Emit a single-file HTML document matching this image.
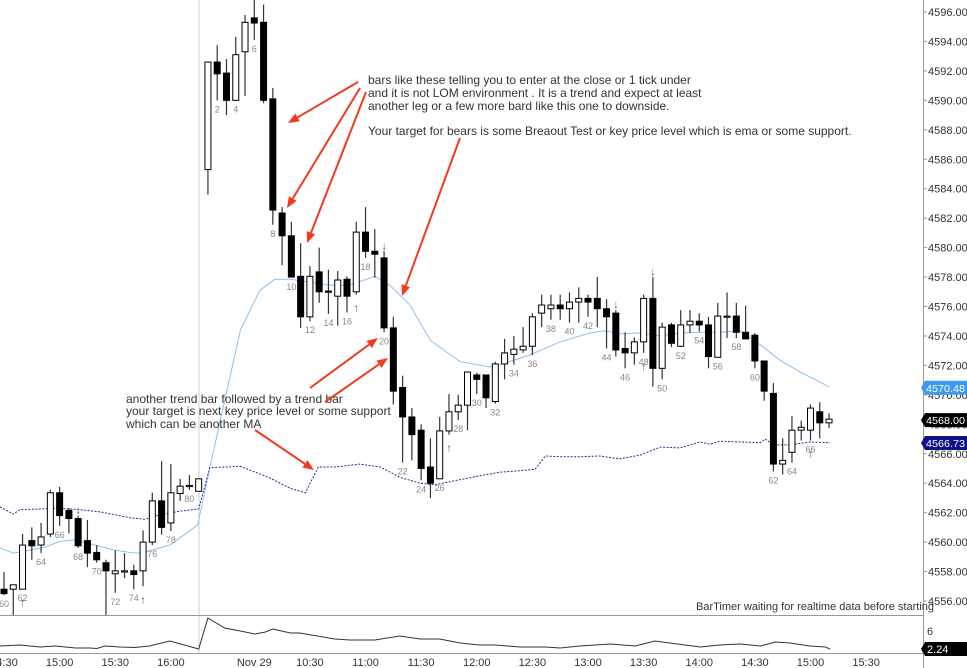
<!DOCTYPE html>
<html><head><meta charset="utf-8"><style>
html,body{margin:0;padding:0;background:#fff;}
svg{display:block;font-family:"Liberation Sans",sans-serif;}
</style></head><body>
<svg id="chart" width="967" height="668" viewBox="0 0 967 668" xmlns="http://www.w3.org/2000/svg">
<rect x="0" y="0" width="967" height="668" fill="#fff"/>
<line x1="199" y1="0" x2="199" y2="653" stroke="#cfcfcf" stroke-width="1"/>
<line x1="0" y1="615.5" x2="923" y2="615.5" stroke="#999"/>
<line x1="0" y1="653.5" x2="923" y2="653.5" stroke="#999"/>
<line x1="923.5" y1="0" x2="923.5" y2="668" stroke="#999"/>
<g id="g-ma"></g>
<g id="g-candles"></g>
<g id="g-labels"></g>
<g id="g-signals"></g>
<g id="g-ind"></g>
<g id="g-axis"></g>
<g id="g-notes" font-size="12" fill="#333">
<text x="368" y="84">bars like these telling you to enter at the close or 1 tick under</text>
<text x="368" y="97">and it is not LOM environment . It is a trend and expect at least</text>
<text x="368" y="110">another leg or a few more bard like this one to downside.</text>
<text x="368" y="135">Your target for bears is some Breaout Test or key price level which is ema or some support.</text>
<text x="126" y="403">another trend bar followed by a trend bar</text>
<text x="126" y="415">your target is next key price level or some support</text>
<text x="126" y="428">which can be another MA</text>
<text x="696" y="610" font-size="11">BarTimer waiting for realtime data before starting</text>
</g>
<g id="g-arrows"></g>
</svg>
<script>
// ---- data ----
const barNums = [60,61,62,63,64,65,66,67,68,69,70,71,72,73,74,75,76,77,78,79,80,81,
 1,2,3,4,5,6,7,8,9,10,11,12,13,14,15,16,17,18,19,20,21,22,23,24,25,26,27,28,29,30,31,32,33,34,35,36,37,38,39,40,41,42,43,44,45,46,47,48,49,50,51,52,53,54,55,56,57,58,59,60,61,62,63,64,65,66,67,68];
const opens = [4556.8,4556.8,4556.8,4560.1,4559.8,4560.55,4563.35,4562.15,4561.6,4560.1,4559.3,4558.6,4557.85,4558.0,4558.05,4558.05,4560.0,4562.8,4561.3,4563.3,4563.8,4563.45,
 4585.3,4592.6,4591.85,4590.0,4593.3,4595.6,4595.3,4590.1,4582.35,4580.8,4578.05,4575.3,4578.35,4577.05,4576.7,4577.85,4577.0,4581.05,4579.75,4579.3,4574.55,4570.5,4568.5,4567.6,4565.1,4564.3,4567.55,4568.85,4569.3,4571.35,4571.35,4569.55,4572.1,4572.75,4573.05,4573.3,4575.55,4575.85,4576.1,4575.85,4576.3,4576.55,4576.55,4575.85,4575.55,4573.15,4572.85,4573.6,4576.55,4571.8,4574.75,4573.3,4574.75,4575.0,4574.75,4572.55,4575.3,4575.35,4574.25,4574.05,4572.3,4570.1,4565.3,4566.1,4567.6,4567.6,4568.85,4568.1];
const highs = [4557.97,4557.1,4560.55,4561.0,4561.3,4563.55,4563.75,4562.3,4561.8,4561.5,4559.8,4558.8,4559.45,4559.25,4558.45,4560.8,4563.35,4565.5,4565.3,4564.3,4564.55,4564.3,
 4592.6,4593.75,4592.8,4594.3,4595.8,4597.0,4596.5,4590.85,4582.75,4581.75,4580.3,4578.75,4580.0,4578.5,4578.4,4578.05,4581.75,4582.75,4581.25,4579.75,4575.3,4571.3,4569.1,4568.0,4567.05,4568.5,4570.05,4570.0,4571.55,4571.5,4571.35,4572.25,4573.8,4574.0,4574.6,4575.55,4576.8,4576.8,4576.8,4576.95,4577.3,4576.8,4578.0,4576.5,4575.75,4574.25,4573.9,4576.8,4578.0,4574.9,4574.9,4575.75,4575.75,4575.55,4575.3,4576.25,4576.95,4576.25,4576.05,4574.2,4572.3,4570.8,4567.05,4568.55,4568.25,4569.35,4569.5,4568.75];
const lows = [4556.4,4554.9,4556.8,4558.8,4559.25,4560.35,4561.1,4560.6,4559.6,4558.3,4558.6,4554.9,4556.55,4557.55,4556.8,4557.0,4559.8,4560.5,4560.75,4562.8,4563.55,4563.45,
 4583.6,4590.0,4589.0,4590.0,4590.3,4594.1,4589.8,4581.55,4578.8,4577.95,4574.55,4575.0,4576.25,4575.5,4574.7,4575.6,4576.8,4579.3,4577.95,4574.25,4569.35,4565.4,4565.55,4564.2,4563.0,4564.3,4567.3,4568.3,4567.6,4570.05,4569.1,4569.4,4571.05,4572.05,4572.85,4572.7,4574.6,4575.1,4575.1,4574.9,4574.9,4575.3,4574.6,4573.15,4572.6,4571.8,4572.05,4572.85,4570.55,4571.05,4573.25,4573.25,4574.2,4574.3,4571.8,4572.55,4573.85,4573.85,4573.8,4571.8,4569.6,4564.8,4564.6,4565.4,4566.9,4566.9,4567.05,4567.75];
const closes = [4556.5,4557.1,4559.8,4559.75,4560.35,4563.35,4561.8,4561.6,4559.75,4559.25,4558.8,4558.05,4558.05,4558.05,4557.8,4560.0,4562.8,4561.0,4563.35,4563.8,4563.85,4564.3,
 4592.6,4591.8,4590.0,4593.1,4595.3,4595.25,4590.0,4582.55,4580.8,4578.0,4575.3,4578.05,4577.0,4577.0,4577.8,4576.7,4581.05,4579.75,4579.55,4574.55,4570.25,4568.5,4567.3,4565.0,4564.0,4567.55,4568.85,4569.3,4571.55,4571.05,4569.8,4572.1,4572.85,4573.1,4573.3,4575.3,4576.1,4576.1,4575.85,4576.3,4576.55,4576.3,4575.85,4575.3,4573.05,4572.85,4573.6,4576.55,4571.8,4574.6,4573.5,4574.75,4575.0,4574.75,4572.6,4575.35,4575.35,4574.25,4573.8,4572.3,4570.25,4565.3,4565.55,4567.6,4567.8,4569.1,4568.1,4568.35];
const emaIdx = [-0.43,1,4.4,6,7.7,9.8,12,14.1,15.2,17.9,20.9,22.2,25.5,27.6,29.2,30.9,35.2,37.3,40,41.6,43.8,46,49.2,52.4,53.5,56.7,60,63.2,64.8,66.5,68.6,70.8,72.9,75.1,77.2,79.4,81.6,83.7,85.9,89];
const emaVal = [4559.6,4559.25,4559.65,4560.05,4560.15,4559.8,4559.45,4559.25,4559.3,4559.8,4561.15,4565.05,4574.4,4577.1,4577.85,4577.85,4577.45,4577.45,4578.05,4577.45,4576.1,4573.7,4572.25,4571.9,4572.05,4572.7,4573.6,4574.2,4574.35,4574.15,4574.2,4574.0,4574.2,4574.25,4574.25,4574.35,4573.4,4572.35,4571.55,4570.55];
const maIdx = [-0.43,1,1.7,3.9,6,8.2,10.4,13.6,15.2,16.8,19,21,22.2,25.5,28.7,30.9,32.5,33.9,35.7,38.4,40.6,42.7,44.9,46.5,48.1,51.3,53.5,55.7,57.3,58.4,60,62.1,64.3,66.4,68.6,70.8,72.9,75.1,76.2,77.2,81.6,82.1,83,84.8,86.9,89.1];
const maVal = [4562.4,4561.9,4562.2,4562.25,4562.3,4562.2,4562.05,4561.65,4561.55,4561.85,4562.1,4562.25,4565.05,4565.15,4564.35,4563.65,4563.35,4565.1,4565.1,4565.3,4565.1,4564.4,4564.0,4563.9,4564.1,4564.5,4564.75,4564.85,4564.95,4565.85,4565.8,4565.8,4565.85,4565.65,4565.9,4566.45,4566.4,4566.8,4566.65,4566.85,4566.75,4567.0,4566.6,4566.6,4566.8,4566.75];
const indIdx = [-0.43,1.7,3.9,5.5,7.7,9.3,10,10.9,12.5,14.1,15.7,17.9,21,22,23.8,25.5,27.1,28.2,29,30.9,31.9,35.7,37.3,40,42.7,44.9,47,49.2,51.3,53,55.7,58.4,60,62.1,65.4,68.1,70.2,71.8,75.1,77.2,79.4,81.6,83.2,84.8,86.9,88.6,89.1];
const indVal = [2.87,3.08,2.66,2.87,2.45,2.45,2.34,2.87,2.66,2.55,2.87,3.91,2.24,8.71,6.62,6.0,5.37,5.79,6.42,5.58,5.58,4.33,4.12,4.12,4.95,4.33,4.33,3.49,3.08,3.08,2.66,2.66,2.45,2.87,3.29,2.87,3.91,3.49,2.66,3.08,3.29,2.87,3.7,3.49,2.87,2.66,2.24];
const upSignals = [2,15,38,48,69,87];
const downSignals = [8,41,66,70];
const priceTicks = [4556,4558,4560,4562,4564,4566,4568,4570,4572,4574,4576,4578,4580,4582,4584,4586,4588,4590,4592,4594,4596];
const timeLabels = ["14:30","15:00","15:30","16:00","Nov 29","10:30","11:00","11:30","12:00","12:30","13:00","13:30","14:00","14:30","15:00","15:30"];
const timeIdx = [0,6,12,18,27,33,39,45,51,57,63,69,75,81,87,93];

// ---- scales ----
const NS="http://www.w3.org/2000/svg";
const X = i => 4 + i*9.27;
const Y = p => 12 + (4596-p)*14.725;
const YI = v => 649 - (v-2.24)*4.79;
function mk(tag, attrs, parent){const e=document.createElementNS(NS,tag);for(const k in attrs)e.setAttribute(k,attrs[k]);parent.appendChild(e);return e;}
const gC=document.getElementById('g-candles'), gL=document.getElementById('g-labels'), gM=document.getElementById('g-ma'),
 gS=document.getElementById('g-signals'), gI=document.getElementById('g-ind'), gA=document.getElementById('g-axis'), gR=document.getElementById('g-arrows');

const defs=mk('defs',{},document.getElementById('chart'));
const cp=mk('clipPath',{id:'pclip'},defs); mk('rect',{x:0,y:0,width:923,height:615},cp);
gC.setAttribute('clip-path','url(#pclip)'); gM.setAttribute('clip-path','url(#pclip)');

function poly(idx, vals, yf){return idx.map((v,k)=>X(v).toFixed(1)+','+yf(vals[k]).toFixed(1)).join(' ');}
const ema=mk('polyline',{points:poly(emaIdx,emaVal,Y),fill:'none',stroke:'#8fc0f5','stroke-width':1},gM);


const ma=mk('polyline',{points:poly(maIdx,maVal,Y),fill:'none',stroke:'#2b2b8f','stroke-width':1,'stroke-dasharray':'2,1.5'},gM);



for(let i=0;i<opens.length;i++){
  const x=X(i), o=opens[i], c=closes[i];
  const w=mk('line',{x1:x,x2:x,y1:Y(highs[i]),y2:Y(lows[i]),stroke:'#333','stroke-width':1.2},gC);
  
  
  const top=Y(Math.max(o,c)), bot=Y(Math.min(o,c));
  const h=Math.max(bot-top,1.2);
  const up=c>=o;
  const b=mk('rect',{x:x-3,y:top,width:6,height:h,fill:up?'#fff':'#000',stroke:'#000','stroke-width':1},gC);
  
  
  if(barNums[i]%2===0 && i<opens.length-1){
    const t=mk('text',{x:x,y:Math.min(Y(lows[i])+12,611),'text-anchor':'middle','font-size':9,fill:'#888'},gL);
    t.textContent=barNums[i];
    
    
  }
}
upSignals.forEach(i=>{
  const t=mk('text',{x:X(i),y:Math.min(Y(lows[i])+17,610),'text-anchor':'middle','font-size':11,fill:'#2a8a2a','font-weight':'bold'},gS);
  t.textContent='↑';
  
  
});
downSignals.forEach(i=>{
  const t=mk('text',{x:X(i),y:Y(highs[i])-2,'text-anchor':'middle','font-size':11,fill:'#a030a0','font-weight':'bold'},gS);
  t.textContent='↓';
  
  
});
const ind=mk('polyline',{points:poly(indIdx,indVal,YI),fill:'none',stroke:'#333','stroke-width':1},gI);



priceTicks.forEach(p=>{
  const tk=mk('line',{x1:923,x2:927,y1:Y(p),y2:Y(p),stroke:'#999'},gA);
  
  
  const t=mk('text',{x:928,y:Y(p)+4,'font-size':11,fill:'#333'},gA);
  t.textContent=p.toFixed(2);
  
  
});
timeLabels.forEach((s,k)=>{
  const t=mk('text',{x:X(timeIdx[k]),y:666,'text-anchor':'middle','font-size':11,fill:'#333'},gA);
  t.textContent=s;
  
  
});
function tag(val,color,y,name){
  const g=mk('g',{},gA);
  
  
  mk('polygon',{points:`921,${y} 925,${y-7} 967,${y-7} 967,${y+7} 925,${y+7}`,fill:color},g);
  const t=mk('text',{x:926,y:y+4,'font-size':10.5,fill:'#fff',textLength:39,lengthAdjust:'spacingAndGlyphs'},g); t.textContent=val;
}
tag('4570.48','#3d9af0',Y(4570.48),'ema-price-tag');
tag('4568.00','#000',Y(closes[closes.length-1])+1,'last-price-tag');
tag('4566.73','#10108a',Y(4566.73),'ma-price-tag');
const t6=mk('text',{x:927,y:635,'font-size':11,fill:'#333'},gA); t6.textContent='6';


(function(){
  const g=mk('g',{},gA);
  
  
  mk('polygon',{points:`921,649 925,642 967,642 967,656 925,656`,fill:'#000'},g);
  const t=mk('text',{x:927,y:653,'font-size':11,fill:'#fff'},g); t.textContent='2.24';
})();

const arrows=[[358,82,288,123],[360,88,287,208],[366,92,307,243],[460,138,402,296],[310,388,378,338],[325,402,388,358],[255,430,314,470]];
arrows.forEach(a=>{
  const [x1,y1,x2,y2]=a; const g=mk('g',{},gR);
  
  
  const ang=Math.atan2(y2-y1,x2-x1), L=11, W=4.5;
  const bx=x2-L*Math.cos(ang), by=y2-L*Math.sin(ang);
  mk('line',{x1:x1,y1:y1,x2:bx,y2:by,stroke:'#f23a20','stroke-width':2},g);
  const px=-Math.sin(ang)*W, py=Math.cos(ang)*W;
  mk('polygon',{points:`${x2},${y2} ${bx+px},${by+py} ${bx-px},${by-py}`,fill:'#f23a20'},g);
});
</script>
</body></html>
